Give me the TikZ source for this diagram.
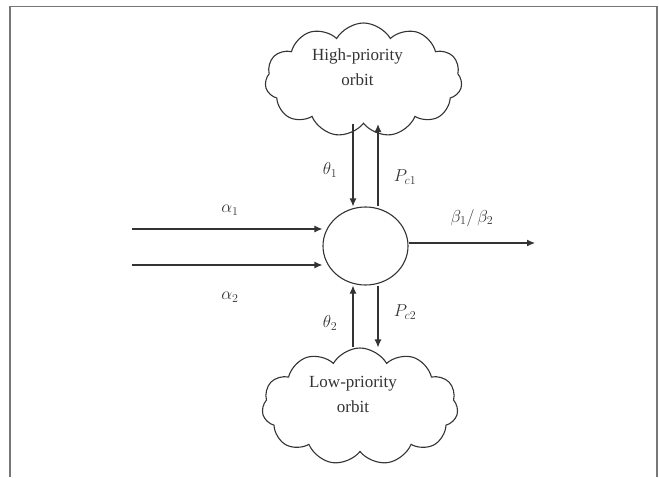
\documentclass[tikz,border=0pt]{standalone}
\usepackage{fontspec}
\setmainfont{Liberation Serif}
\usetikzlibrary{shapes.symbols,shapes.geometric,arrows.meta}
\definecolor{ink}{HTML}{333333}
\definecolor{framegray}{HTML}{777777}
\begin{document}
\begin{tikzpicture}[x=1pt,y=-1pt,
  cloudbox/.style={draw=ink, line width=1.1pt, cloud, cloud puffs=11, cloud puff arc=120, aspect=1.7, inner sep=0pt},
  cloudtext/.style={align=center, font=\fontsize{17}{25}\selectfont, text=ink},
  hub/.style={draw=ink, line width=1.1pt, ellipse, inner sep=0pt, minimum width=85, minimum height=78},
  arr/.style={draw=ink, line width=1.1pt, -{Latex[length=8pt,width=7pt]}},
  lab/.style={font=\fontsize{18}{20}\selectfont, text=ink}]
\useasboundingbox (0,0) rectangle (659,477);
\draw[framegray, line width=1.5pt] (10,477) -- (10,6.5) -- (657,6.5) -- (657,477);

\node[cloudbox, minimum width=197, minimum height=114,
  label={[cloudtext, xshift=-6pt, yshift=12.5pt]center:High-priority\\orbit}] (hp) at (363.5,80) {};
\node[cloudbox, minimum width=196, minimum height=117,
  label={[cloudtext, xshift=-7pt, yshift=12pt]center:Low-priority\\orbit}] (lp) at (360,406.5) {};
\node[hub] (hub) at (365.5,246) {};

\coordinate (xa) at (353,0);
\coordinate (xb) at (378,0);
\coordinate (in1) at (132,229);
\coordinate (in2) at (132,265);
\coordinate (out) at (535,243);

\draw[arr] (hp.south -| xa) -- (hub.north -| xa);
\draw[arr] (hub.north -| xb) -- (hp.south -| xb);
\draw[arr] (lp.north -| xa) -- (hub.south -| xa);
\draw[arr] (hub.south -| xb) -- (lp.north -| xb);
\draw[arr] (in1) -- (hub.west |- in1);
\draw[arr] (in2) -- (hub.west |- in2);
\draw[arr] (hub.east |- out) -- (out);

\node[lab] (t1) at (330,170) {$\theta_1$};
\node[lab] (pc1) at (405,177) {$P_{c1}$};
\node[lab] (a1) at (230,210) {$\alpha_1$};
\node[lab] (a2) at (230,297) {$\alpha_2$};
\node[lab] (b) at (472,218) {$\beta_1/\,\beta_2$};
\node[lab] (t2) at (330,323) {$\theta_2$};
\node[lab] (pc2) at (405,312) {$P_{c2}$};
\end{tikzpicture}
\end{document}
